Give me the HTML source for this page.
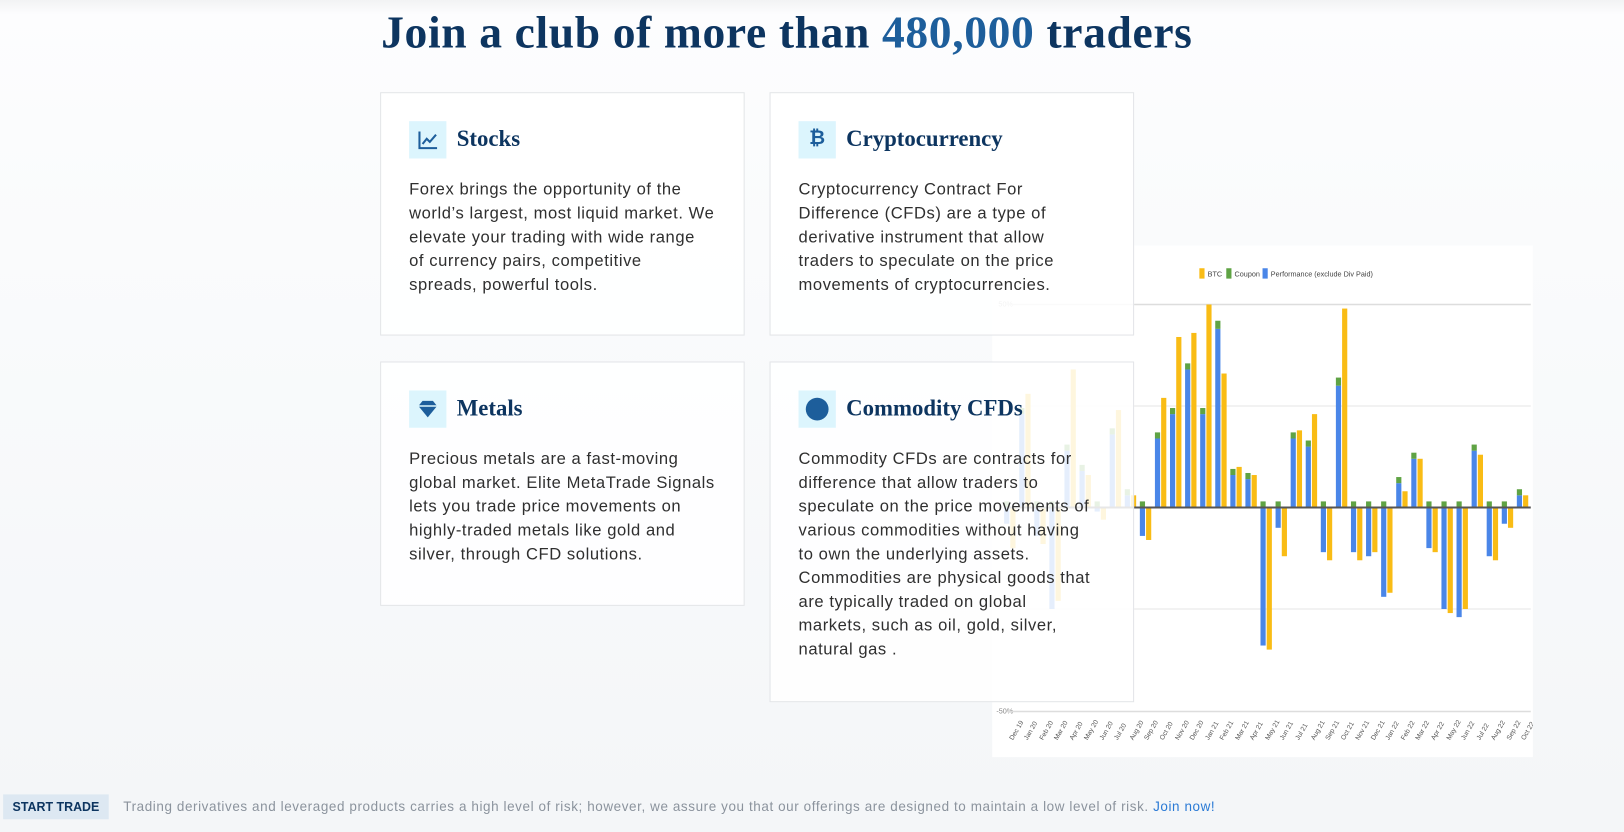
<!DOCTYPE html>
<html><head><meta charset="utf-8"><style>
html,body{margin:0;padding:0;width:1624px;height:832px;overflow:hidden;background:#f5f7f9}
#w{position:absolute;left:0;top:0;width:1568px;height:803px;transform:scale(1.035714);transform-origin:0 0;background:linear-gradient(#f2f3f4 0,#fdfdfe 14px,#fbfcfd 120px,#f4f6f8 803px)}
h1{position:absolute;left:368px;top:6px;margin:0;font-family:"Liberation Serif",serif;font-weight:bold;font-size:44px;color:#0d3560;white-space:nowrap;letter-spacing:0.6px}
h1 span{color:#1d5e9b}
.card{position:absolute;background:rgba(255,255,255,0.86);border:1px solid #e3e5e8;box-sizing:border-box;z-index:2}
.ic{position:absolute;left:27px;top:27px;width:36px;height:36px;background:#dcf5fd}
.t{position:absolute;left:73px;top:31px;font-family:"Liberation Serif",serif;font-weight:bold;font-size:22px;color:#0d3560;white-space:nowrap}
.p{position:absolute;left:27px;top:82px;font-family:"Liberation Sans",sans-serif;font-size:16px;letter-spacing:0.55px;line-height:23px;color:#2f2f2f;white-space:nowrap}
#chart{position:absolute;left:958px;top:237px;width:522px;height:494px;background:#fff;z-index:1}
.b{fill:#4a86e8}.y{fill:#f9bc15}.g{fill:#5fa344}
.xl{font-family:"Liberation Sans",sans-serif;font-size:6.5px;fill:#555}
#bar{position:absolute;left:0;top:767px;width:1568px;height:24px;font-family:"Liberation Sans",sans-serif}
#st{position:absolute;left:3px;top:0;width:102px;height:24px;background:#dde8f2;color:#0d3560;font-weight:bold;font-size:12px;line-height:24px;text-align:center}
#dt{position:absolute;left:119px;top:0;line-height:24px;font-size:13px;letter-spacing:0.57px;color:#8b939d;white-space:nowrap}
#dt a{color:#2a7ad5;text-decoration:none}
</style></head><body><div id="w">
<h1>Join a club of more than <span>480,000</span> traders</h1>

<div id="chart"><svg width="522" height="494" viewBox="0 0 522 494">
<g font-family="Liberation Sans" font-size="7" fill="#444">
<rect x="200" y="22" width="5" height="10" class="y"/><text x="208" y="30">BTC</text>
<rect x="226" y="22" width="5" height="10" class="g"/><text x="234" y="30">Coupon</text>
<rect x="261" y="22" width="5" height="10" class="b"/><text x="269" y="30">Performance (exclude Div Paid)</text>
<text x="6" y="59" fill="#aaa">50%</text><text x="4" y="452" fill="#888">-50%</text>
</g>
<line x1="14" x2="520" y1="57" y2="57" stroke="#ddd" stroke-width="1.5"/>
<line x1="14" x2="520" y1="155" y2="155" stroke="#e6e6e6"/>
<line x1="14" x2="520" y1="351" y2="351" stroke="#e6e6e6"/>
<line x1="14" x2="520" y1="450" y2="450" stroke="#ddd" stroke-width="1.5"/>
<g transform="translate(17,253)">
<g transform="translate(0,0) scale(1,-3.92)"><rect class="b" x="-5.5" y="-4" width="5" height="4"/><rect class="g" x="-5.5" y="0" width="5" height="1.5"/><rect class="y" x="0.5" y="-10" width="5" height="10"/></g>
<g transform="translate(14.56,0) scale(1,-3.92)"><rect class="b" x="-5.5" y="0" width="5" height="23"/><rect class="g" x="-5.5" y="23" width="5" height="1.5"/><rect class="y" x="0.5" y="0" width="5" height="28"/></g>
<g transform="translate(29.12,0) scale(1,-3.92)"><rect class="b" x="-5.5" y="-7" width="5" height="7"/><rect class="g" x="-5.5" y="0" width="5" height="1.5"/><rect class="y" x="0.5" y="-9" width="5" height="9"/></g>
<g transform="translate(43.68,0) scale(1,-3.92)"><rect class="b" x="-5.5" y="-25" width="5" height="25"/><rect class="g" x="-5.5" y="0" width="5" height="1.5"/><rect class="y" x="0.5" y="-23" width="5" height="23"/></g>
<g transform="translate(58.24,0) scale(1,-3.92)"><rect class="b" x="-5.5" y="0" width="5" height="14"/><rect class="g" x="-5.5" y="14" width="5" height="1.5"/><rect class="y" x="0.5" y="0" width="5" height="34"/></g>
<g transform="translate(72.8,0) scale(1,-3.92)"><rect class="b" x="-5.5" y="0" width="5" height="9"/><rect class="g" x="-5.5" y="9" width="5" height="1.5"/><rect class="y" x="0.5" y="0" width="5" height="8"/></g>
<g transform="translate(87.36,0) scale(1,-3.92)"><rect class="b" x="-5.5" y="-1" width="5" height="1"/><rect class="g" x="-5.5" y="0" width="5" height="1.5"/><rect class="y" x="0.5" y="-3" width="5" height="3"/></g>
<g transform="translate(101.92,0) scale(1,-3.92)"><rect class="b" x="-5.5" y="0" width="5" height="18"/><rect class="g" x="-5.5" y="18" width="5" height="1.5"/><rect class="y" x="0.5" y="0" width="5" height="24"/></g>
<g transform="translate(116.48,0) scale(1,-3.92)"><rect class="b" x="-5.5" y="0" width="5" height="3"/><rect class="g" x="-5.5" y="3" width="5" height="1.5"/><rect class="y" x="0.5" y="0" width="5" height="3"/></g>
<g transform="translate(131.04,0) scale(1,-3.92)"><rect class="b" x="-5.5" y="-7" width="5" height="7"/><rect class="g" x="-5.5" y="0" width="5" height="1.5"/><rect class="y" x="0.5" y="-8" width="5" height="8"/></g>
<g transform="translate(145.6,0) scale(1,-3.92)"><rect class="b" x="-5.5" y="0" width="5" height="17"/><rect class="g" x="-5.5" y="17" width="5" height="1.5"/><rect class="y" x="0.5" y="0" width="5" height="27"/></g>
<g transform="translate(160.16,0) scale(1,-3.92)"><rect class="b" x="-5.5" y="0" width="5" height="23"/><rect class="g" x="-5.5" y="23" width="5" height="1.5"/><rect class="y" x="0.5" y="0" width="5" height="42"/></g>
<g transform="translate(174.72,0) scale(1,-3.92)"><rect class="b" x="-5.5" y="0" width="5" height="34"/><rect class="g" x="-5.5" y="34" width="5" height="1.5"/><rect class="y" x="0.5" y="0" width="5" height="43"/></g>
<g transform="translate(189.28,0) scale(1,-3.92)"><rect class="b" x="-5.5" y="0" width="5" height="23"/><rect class="g" x="-5.5" y="23" width="5" height="1.5"/><rect class="y" x="0.5" y="0" width="5" height="50"/></g>
<g transform="translate(203.84,0) scale(1,-3.92)"><rect class="b" x="-5.5" y="0" width="5" height="44"/><rect class="g" x="-5.5" y="44" width="5" height="2"/><rect class="y" x="0.5" y="0" width="5" height="33"/></g>
<g transform="translate(218.4,0) scale(1,-3.92)"><rect class="b" x="-5.5" y="0" width="5" height="8"/><rect class="g" x="-5.5" y="8" width="5" height="1.5"/><rect class="y" x="0.5" y="0" width="5" height="10"/></g>
<g transform="translate(232.96,0) scale(1,-3.92)"><rect class="b" x="-5.5" y="0" width="5" height="7"/><rect class="g" x="-5.5" y="7" width="5" height="1.5"/><rect class="y" x="0.5" y="0" width="5" height="8"/></g>
<g transform="translate(247.52,0) scale(1,-3.92)"><rect class="b" x="-5.5" y="-34" width="5" height="34"/><rect class="g" x="-5.5" y="0" width="5" height="1.5"/><rect class="y" x="0.5" y="-35" width="5" height="35"/></g>
<g transform="translate(262.08,0) scale(1,-3.92)"><rect class="b" x="-5.5" y="-5" width="5" height="5"/><rect class="g" x="-5.5" y="0" width="5" height="1.5"/><rect class="y" x="0.5" y="-12" width="5" height="12"/></g>
<g transform="translate(276.64,0) scale(1,-3.92)"><rect class="b" x="-5.5" y="0" width="5" height="17"/><rect class="g" x="-5.5" y="17" width="5" height="1.5"/><rect class="y" x="0.5" y="0" width="5" height="19"/></g>
<g transform="translate(291.2,0) scale(1,-3.92)"><rect class="b" x="-5.5" y="0" width="5" height="15"/><rect class="g" x="-5.5" y="15" width="5" height="1.5"/><rect class="y" x="0.5" y="0" width="5" height="23"/></g>
<g transform="translate(305.76,0) scale(1,-3.92)"><rect class="b" x="-5.5" y="-11" width="5" height="11"/><rect class="g" x="-5.5" y="0" width="5" height="1.5"/><rect class="y" x="0.5" y="-13" width="5" height="13"/></g>
<g transform="translate(320.32,0) scale(1,-3.92)"><rect class="b" x="-5.5" y="0" width="5" height="30"/><rect class="g" x="-5.5" y="30" width="5" height="2"/><rect class="y" x="0.5" y="0" width="5" height="49"/></g>
<g transform="translate(334.88,0) scale(1,-3.92)"><rect class="b" x="-5.5" y="-11" width="5" height="11"/><rect class="g" x="-5.5" y="0" width="5" height="1.5"/><rect class="y" x="0.5" y="-13" width="5" height="13"/></g>
<g transform="translate(349.44,0) scale(1,-3.92)"><rect class="b" x="-5.5" y="-12" width="5" height="12"/><rect class="g" x="-5.5" y="0" width="5" height="1.5"/><rect class="y" x="0.5" y="-11" width="5" height="11"/></g>
<g transform="translate(364,0) scale(1,-3.92)"><rect class="b" x="-5.5" y="-22" width="5" height="22"/><rect class="g" x="-5.5" y="0" width="5" height="1.5"/><rect class="y" x="0.5" y="-21" width="5" height="21"/></g>
<g transform="translate(378.56,0) scale(1,-3.92)"><rect class="b" x="-5.5" y="0" width="5" height="6"/><rect class="g" x="-5.5" y="6" width="5" height="1.5"/><rect class="y" x="0.5" y="0" width="5" height="4"/></g>
<g transform="translate(393.12,0) scale(1,-3.92)"><rect class="b" x="-5.5" y="0" width="5" height="12"/><rect class="g" x="-5.5" y="12" width="5" height="1.5"/><rect class="y" x="0.5" y="0" width="5" height="12"/></g>
<g transform="translate(407.68,0) scale(1,-3.92)"><rect class="b" x="-5.5" y="-10" width="5" height="10"/><rect class="g" x="-5.5" y="0" width="5" height="1.5"/><rect class="y" x="0.5" y="-11" width="5" height="11"/></g>
<g transform="translate(422.24,0) scale(1,-3.92)"><rect class="b" x="-5.5" y="-25" width="5" height="25"/><rect class="g" x="-5.5" y="0" width="5" height="1.5"/><rect class="y" x="0.5" y="-26" width="5" height="26"/></g>
<g transform="translate(436.8,0) scale(1,-3.92)"><rect class="b" x="-5.5" y="-27" width="5" height="27"/><rect class="g" x="-5.5" y="0" width="5" height="1.5"/><rect class="y" x="0.5" y="-25" width="5" height="25"/></g>
<g transform="translate(451.36,0) scale(1,-3.92)"><rect class="b" x="-5.5" y="0" width="5" height="14"/><rect class="g" x="-5.5" y="14" width="5" height="1.5"/><rect class="y" x="0.5" y="0" width="5" height="13"/></g>
<g transform="translate(465.92,0) scale(1,-3.92)"><rect class="b" x="-5.5" y="-12" width="5" height="12"/><rect class="g" x="-5.5" y="0" width="5" height="1.5"/><rect class="y" x="0.5" y="-13" width="5" height="13"/></g>
<g transform="translate(480.48,0) scale(1,-3.92)"><rect class="b" x="-5.5" y="-4" width="5" height="4"/><rect class="g" x="-5.5" y="0" width="5" height="1.5"/><rect class="y" x="0.5" y="-5" width="5" height="5"/></g>
<g transform="translate(495.04,0) scale(1,-3.92)"><rect class="b" x="-5.5" y="0" width="5" height="3"/><rect class="g" x="-5.5" y="3" width="5" height="1.5"/><rect class="y" x="0.5" y="0" width="5" height="3"/></g>
</g>
<line x1="14" x2="520" y1="253" y2="253" stroke="#555" stroke-width="2"/>
<g class="xl">
<text transform="translate(20,478) rotate(-60)">Dec 19</text><text transform="translate(34,478) rotate(-60)">Jan 20</text><text transform="translate(49,478) rotate(-60)">Feb 20</text><text transform="translate(63,478) rotate(-60)">Mar 20</text><text transform="translate(78,478) rotate(-60)">Apr 20</text><text transform="translate(92,478) rotate(-60)">May 20</text><text transform="translate(107,478) rotate(-60)">Jun 20</text><text transform="translate(121,478) rotate(-60)">Jul 20</text><text transform="translate(136,478) rotate(-60)">Aug 20</text><text transform="translate(150,478) rotate(-60)">Sep 20</text><text transform="translate(165,478) rotate(-60)">Oct 20</text><text transform="translate(180,478) rotate(-60)">Nov 20</text><text transform="translate(194,478) rotate(-60)">Dec 20</text><text transform="translate(209,478) rotate(-60)">Jan 21</text><text transform="translate(223,478) rotate(-60)">Feb 21</text><text transform="translate(238,478) rotate(-60)">Mar 21</text><text transform="translate(252,478) rotate(-60)">Apr 21</text><text transform="translate(267,478) rotate(-60)">May 21</text><text transform="translate(281,478) rotate(-60)">Jun 21</text><text transform="translate(296,478) rotate(-60)">Jul 21</text><text transform="translate(311,478) rotate(-60)">Aug 21</text><text transform="translate(325,478) rotate(-60)">Sep 21</text><text transform="translate(340,478) rotate(-60)">Oct 21</text><text transform="translate(354,478) rotate(-60)">Nov 21</text><text transform="translate(369,478) rotate(-60)">Dec 21</text><text transform="translate(383,478) rotate(-60)">Jan 22</text><text transform="translate(398,478) rotate(-60)">Feb 22</text><text transform="translate(412,478) rotate(-60)">Mar 22</text><text transform="translate(427,478) rotate(-60)">Apr 22</text><text transform="translate(442,478) rotate(-60)">May 22</text><text transform="translate(456,478) rotate(-60)">Jun 22</text><text transform="translate(471,478) rotate(-60)">Jul 22</text><text transform="translate(485,478) rotate(-60)">Aug 22</text><text transform="translate(500,478) rotate(-60)">Sep 22</text><text transform="translate(514,478) rotate(-60)">Oct 22</text>
</g>
</svg></div>

<div class="card" style="left:367px;top:89px;width:352px;height:235px">
<div class="ic"><svg width="36" height="36"><path d="M10 10 V26 H27" fill="none" stroke="#1d5e9b" stroke-width="2"/><path d="M13 22 L17 17 L20 20 L26 13" fill="none" stroke="#1d5e9b" stroke-width="2"/></svg></div>
<div class="t">Stocks</div>
<div class="p">Forex brings the opportunity of the<br>world’s largest, most liquid market. We<br>elevate your trading with wide range<br>of currency pairs, competitive<br>spreads, powerful tools.</div></div>

<div class="card" style="left:743px;top:89px;width:352px;height:235px">
<div class="ic"><div style="position:absolute;left:0;top:5px;width:36px;text-align:center;font:bold 19px 'DejaVu Sans',sans-serif;color:#1d5e9b">₿</div></div>
<div class="t">Cryptocurrency</div>
<div class="p">Cryptocurrency Contract For<br>Difference (CFDs) are a type of<br>derivative instrument that allow<br>traders to speculate on the price<br>movements of cryptocurrencies.</div></div>

<div class="card" style="left:367px;top:349px;width:352px;height:236px">
<div class="ic"><svg width="36" height="36"><path d="M9 15 L13 10 H23 L27 15 L18 26 Z" fill="#1d5e9b"/><path d="M9 15 H27" stroke="#dcf5fd" stroke-width="1.5"/></svg></div>
<div class="t">Metals</div>
<div class="p">Precious metals are a fast-moving<br>global market. Elite MetaTrade Signals<br>lets you trade price movements on<br>highly-traded metals like gold and<br>silver, through CFD solutions.</div></div>

<div class="card" style="left:743px;top:349px;width:352px;height:329px">
<div class="ic"><div style="position:absolute;left:7px;top:7px;width:22px;height:22px;border-radius:50%;background:#1d5e9b"></div></div>
<div class="t">Commodity CFDs</div>
<div class="p">Commodity CFDs are contracts for<br>difference that allow traders to<br>speculate on the price movements of<br>various commodities without having<br>to own the underlying assets.<br>Commodities are physical goods that<br>are typically traded on global<br>markets, such as oil, gold, silver,<br>natural gas .</div></div>

<div id="bar"><div id="st">START TRADE</div><div id="dt">Trading derivatives and leveraged products carries a high level of risk; however, we assure you that our offerings are designed to maintain a low level of risk. <a>Join now!</a></div></div>
</div></body></html>
